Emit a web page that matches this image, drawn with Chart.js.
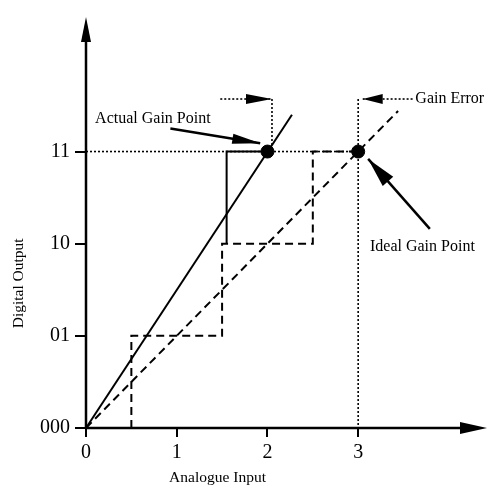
<!DOCTYPE html>
<html>
<head>
<meta charset="utf-8">
<script src="https://cdn.jsdelivr.net/npm/chart.js@4"></script>
<style>
  html, body { margin: 0; padding: 0; background: #fff; }
  #wrap { width: 496px; height: 492px; }
</style>
</head>
<body>
<div id="wrap"><canvas id="gainError"></canvas></div>
<script>
// axis ticks
const inputTicks = [0, 1, 2, 3];
const codeTicks = [0, 1, 2, 3];
const codeLabels = ['000', '01', '10', '11'];

// straight transfer lines
const idealLineX = [0, 3.44];
const idealLineY = [0, 3.44];
const actualLineX = [0, 2.27];
const actualLineY = [0, 3.4];

// staircases
const idealStepX = [0.5, 0.5, 1.5, 1.5, 2.5, 2.5, 3];
const idealStepY = [0, 1, 1, 2, 2, 3, 3];
const actualStepX = [1.55, 1.55, 2];
const actualStepY = [2, 3, 3];

// gain points (actual, ideal)
const gainPointX = [2, 3];
const gainPointY = [3, 3];

// dotted guide lines
const fullScaleGuideX = [0, 3];
const fullScaleGuideY = [3, 3];
const idealDropX = [3, 3];
const idealDropY = [3.57, 0];
const actualDropX = [2.05, 2.05];
const actualDropY = [3.57, 3];
const errorLeftX = [1.48, 2.05];
const errorLeftY = [3.57, 3.57];
const errorRightX = [3.6, 3.05];
const errorRightY = [3.57, 3.57];

// pointer arrows to the gain points
const actualPointerX = [0.93, 1.92];
const actualPointerY = [3.25, 3.09];
const idealPointerX = [3.79, 3.11];
const idealPointerY = [2.16, 2.92];

// text labels
const noteText = ['Actual Gain Point', 'Ideal Gain Point', 'Gain Error'];
const noteX = [0.1, 3.13, 3.63];
const noteY = [3.36, 1.97, 3.57];

const pts = (xs, ys) => xs.map((x, i) => ({ x: x, y: ys[i] }));
const SERIF = '"Liberation Serif", "DejaVu Serif", serif';

function line(data, style, extra) {
  const base = {
    data: data,
    showLine: true,
    borderColor: '#000',
    backgroundColor: '#000',
    pointRadius: 0,
    borderWidth: 2,
    fill: false
  };
  if (style === 'dashed') base.borderDash = [8, 5];
  if (style === 'dotted') { base.borderDash = [2, 2]; base.borderWidth = 1.6; }
  return Object.assign(base, extra || {});
}

function arrowHead(ctx, x0, y0, x1, y1, len, half) {
  const a = Math.atan2(y1 - y0, x1 - x0);
  ctx.save();
  ctx.translate(x1, y1);
  ctx.rotate(a);
  ctx.beginPath();
  ctx.moveTo(0, 0);
  ctx.lineTo(-len, -half);
  ctx.lineTo(-len, half);
  ctx.closePath();
  ctx.fill();
  ctx.restore();
}

// axes with arrow tips, arrowheads on flagged lines, and the text
const drawExtras = {
  id: 'drawExtras',
  afterDatasetsDraw(chart) {
    const ctx = chart.ctx;
    const xs = chart.scales.x, ys = chart.scales.y;
    const a = chart.chartArea;
    const ox = xs.getPixelForValue(0), oy = ys.getPixelForValue(0);
    ctx.save();
    ctx.fillStyle = '#000';
    ctx.strokeStyle = '#000';

    // axes
    ctx.lineWidth = 2.5;
    ctx.beginPath();
    ctx.moveTo(ox, oy);
    ctx.lineTo(ox, a.top + 10);
    ctx.moveTo(ox, oy);
    ctx.lineTo(a.right - 10, oy);
    ctx.stroke();
    arrowHead(ctx, ox, oy, ox, a.top, 25, 5);
    arrowHead(ctx, ox, oy, a.right, oy, 27, 6);

    // arrowheads at the end of flagged datasets
    chart.data.datasets.forEach((ds, i) => {
      if (!ds.arrow) return;
      const els = chart.getDatasetMeta(i).data;
      const p0 = els[els.length - 2], p1 = els[els.length - 1];
      arrowHead(ctx, p0.x, p0.y, p1.x, p1.y, ds.arrow[0], ds.arrow[1]);
    });

    // notes
    ctx.font = '16px ' + SERIF;
    ctx.textAlign = 'left';
    ctx.textBaseline = 'middle';
    noteText.forEach((t, i) => {
      ctx.fillText(t, xs.getPixelForValue(noteX[i]), ys.getPixelForValue(noteY[i]));
    });

    // axis titles
    ctx.font = '15.5px ' + SERIF;
    ctx.textAlign = 'center';
    ctx.fillText('Analogue Input', xs.getPixelForValue(1.45), 478);
    ctx.translate(19, ys.getPixelForValue(1.57));
    ctx.rotate(-Math.PI / 2);
    ctx.fillText('Digital Output', 0, 0);
    ctx.restore();
  }
};

new Chart(document.getElementById('gainError'), {
  type: 'scatter',
  data: {
    datasets: [
      {
        data: pts(gainPointX, gainPointY),
        pointRadius: 6.5,
        pointBackgroundColor: '#000',
        pointBorderColor: '#000',
        showLine: false
      },
      line(pts(actualLineX, actualLineY), 'solid'),
      line(pts(actualStepX, actualStepY), 'solid'),
      line(pts(idealLineX, idealLineY), 'dashed'),
      line(pts(idealStepX, idealStepY), 'dashed'),
      line(pts(fullScaleGuideX, fullScaleGuideY), 'dotted'),
      line(pts(idealDropX, idealDropY), 'dotted'),
      line(pts(actualDropX, actualDropY), 'dotted'),
      line(pts(errorLeftX, errorLeftY), 'dotted', { arrow: [26, 5] }),
      line(pts(errorRightX, errorRightY), 'dotted', { arrow: [20, 5] }),
      line(pts(actualPointerX, actualPointerY), 'solid', { borderWidth: 2.5, arrow: [28, 5] }),
      line(pts(idealPointerX, idealPointerY), 'solid', { borderWidth: 2.5, arrow: [30, 7] })
    ]
  },
  options: {
    responsive: true,
    maintainAspectRatio: false,
    animation: false,
    events: [],
    layout: { padding: { top: 15, right: 9, left: 0, bottom: 0 } },
    plugins: {
      legend: { display: false },
      tooltip: { enabled: false }
    },
    scales: {
      x: {
        type: 'linear',
        min: 0,
        max: 4.42,
        afterBuildTicks: s => { s.ticks = inputTicks.map(v => ({ value: v })); },
        afterFit: s => { s.height = 64; },
        border: { display: false },
        grid: { drawOnChartArea: false, drawTicks: true, tickLength: 9, color: '#000', lineWidth: 2 },
        ticks: {
          color: '#000',
          padding: 4,
          maxRotation: 0,
          font: { family: SERIF, size: 20 },
          callback: v => String(v)
        }
      },
      y: {
        type: 'linear',
        min: 0,
        max: 4.46,
        afterBuildTicks: s => { s.ticks = codeTicks.map(v => ({ value: v })); },
        afterFit: s => { s.width = 86; },
        border: { display: false },
        grid: { drawOnChartArea: false, drawTicks: true, tickLength: 11, color: '#000', lineWidth: 2 },
        ticks: {
          color: '#000',
          padding: 5,
          font: { family: SERIF, size: 20 },
          callback: v => codeLabels[codeTicks.indexOf(v)]
        }
      }
    }
  },
  plugins: [drawExtras]
});
</script>
</body>
</html>
